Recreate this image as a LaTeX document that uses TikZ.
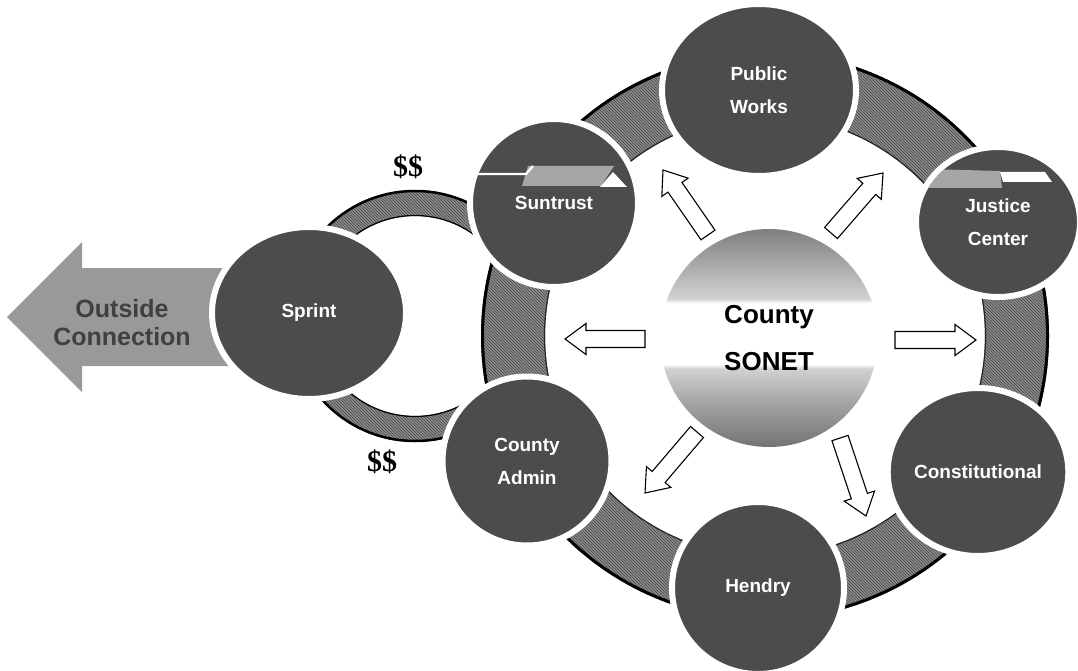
\documentclass[tikz,border=0pt]{standalone}
\usepackage{fontspec}
\setmainfont{Liberation Sans}
\newfontfamily\dollarfont{Liberation Serif}
\usetikzlibrary{shapes.geometric,patterns,calc}
\pgfdeclareverticalshading{sonet}{100bp}{color(0bp)=(black!55); color(25bp)=(black!55); color(35bp)=(black!36); color(43bp)=(black!18); color(44bp)=(white); color(58bp)=(white); color(59bp)=(black!18); color(66bp)=(black!32); color(75bp)=(black!50); color(100bp)=(black!50)}
\newcommand\cenarrow[5]{%
  \coordinate (#1t) at #2;
  \coordinate (#1h) at #3;
  \coordinate (#1b) at ($(#1h)!21pt!(#1t)$);
  \draw[cenarrowst] ($(#1t)!#4!90:(#1h)$) -- ($(#1b)!#4!90:(#1h)$) -- ($(#1b)!#5!90:(#1h)$) -- (#1h)
     -- ($(#1b)!#5!-90:(#1h)$) -- ($(#1b)!#4!-90:(#1h)$) -- ($(#1t)!#4!-90:(#1h)$) -- cycle;}
\begin{document}
\begin{tikzpicture}[x=1pt,y=-1pt,
  sat/.style={ellipse, fill=black!70, draw=white, line width=6pt, text=white, inner sep=0pt,
    align=center, font=\fontsize{19}{33}\selectfont\bfseries},
  ringfill/.style={fill=black!45},
  ringhatch/.style={pattern=north west lines, pattern color=black!72},
  cenarrowst/.style={fill=white, draw=black, line width=1.1pt, line join=miter},
  dollars/.style={font=\dollarfont\bfseries\fontsize{30}{30}\selectfont, text=black, inner sep=0pt}]
\useasboundingbox (0,0) rectangle (1078,671);
\fill[white] (0,0) rectangle (1078,671);

% outside connection arrow
\fill[black!40] (7,317) -- (82,242) -- (82,268) -- (250,268) -- (250,366) -- (82,366) -- (82,392) -- cycle;
\node[font=\fontsize{25}{28}\selectfont\bfseries, text=black!75, align=center, inner sep=0pt] (outside) at (122,323) {Outside\\Connection};

% small ring around Sprint
\fill[ringfill, even odd rule] (415,316) circle[radius=126pt] (415,316) circle[radius=100pt];
\fill[ringhatch, even odd rule] (415,316) circle[radius=126pt] (415,316) circle[radius=100pt];
\draw[black, line width=2.5pt] (415,316) circle[radius=125pt];
\draw[black, line width=1.2pt] (415,316) circle[radius=100.5pt];

% big ring
\fill[ringfill, even odd rule] (765,336) circle[radius=284pt] (765,336) circle[radius=220pt];
\fill[ringhatch, even odd rule] (765,336) circle[radius=284pt] (765,336) circle[radius=220pt];
\draw[black, line width=3pt] (765,336) circle[radius=282.5pt];
\draw[black!85, line width=1.2pt] (765,336) circle[radius=220.5pt];

% centre
\node[circle, minimum size=218pt, inner sep=0pt, shading=sonet, align=center,
  font=\fontsize{26}{47}\selectfont\bfseries] (sonet) at (769,338) {County\\SONET};

% arrows from the centre
\cenarrow{al}{(645,339)}{(565,339)}{8.5pt}{15.5pt}
\cenarrow{ar}{(895,340)}{(976,340)}{8.5pt}{15.5pt}
\cenarrow{aul}{(708,235)}{(663,170)}{8.5pt}{16pt}
\cenarrow{aur}{(831,233)}{(883,173)}{8.5pt}{16pt}
\cenarrow{adl}{(697,432)}{(645,493)}{8.5pt}{16pt}
\cenarrow{adr}{(840,438)}{(866,516)}{8.5pt}{16pt}

% satellites
\node[sat, minimum width=194pt, minimum height=172pt] (pw) at (759,90) {Public\\Works};
\node[sat, minimum width=168pt, minimum height=168pt] (st) at (554,203) {Suntrust};
\node[sat, minimum width=164pt, minimum height=150pt] (jc) at (998,222) {Justice\\Center};
\node[sat, minimum width=168pt, minimum height=168pt] (co) at (978,472) {Constitutional};
\node[sat, minimum width=172pt, minimum height=172pt] (he) at (758,588) {\raisebox{-9pt}{Hendry}};
\node[sat, minimum width=169pt, minimum height=169pt] (ca) at (527,461) {County\\Admin};
\node[sat, minimum width=194pt, minimum height=172pt] (sp) at (309,313) {Sprint};

% tab decorations
\begin{scope}
  \clip (554,203) circle[radius=81pt];
  \fill[black!35] (528,166) -- (614,166) -- (601,186) -- (522,186) -- cycle;
  \fill[white] (600,187) -- (613,172) -- (627,187) -- cycle;
  \draw[white, line width=2.2pt] (470,174) -- (526,174) -- (533,166);
\end{scope}
\begin{scope}
  \clip (998,222) ellipse[x radius=79pt, y radius=72pt];
  \fill[black!35] (925,169) -- (1000,171) -- (1002,188) -- (922,188) -- cycle;
  \fill[white] (1000,172) -- (1045,172) -- (1052,182) -- (1003,182) -- cycle;
\end{scope}

% money
\node[dollars] (d1) at (408,167) {\$\$};
\node[dollars] (d2) at (382,462) {\$\$};
\end{tikzpicture}
\end{document}
